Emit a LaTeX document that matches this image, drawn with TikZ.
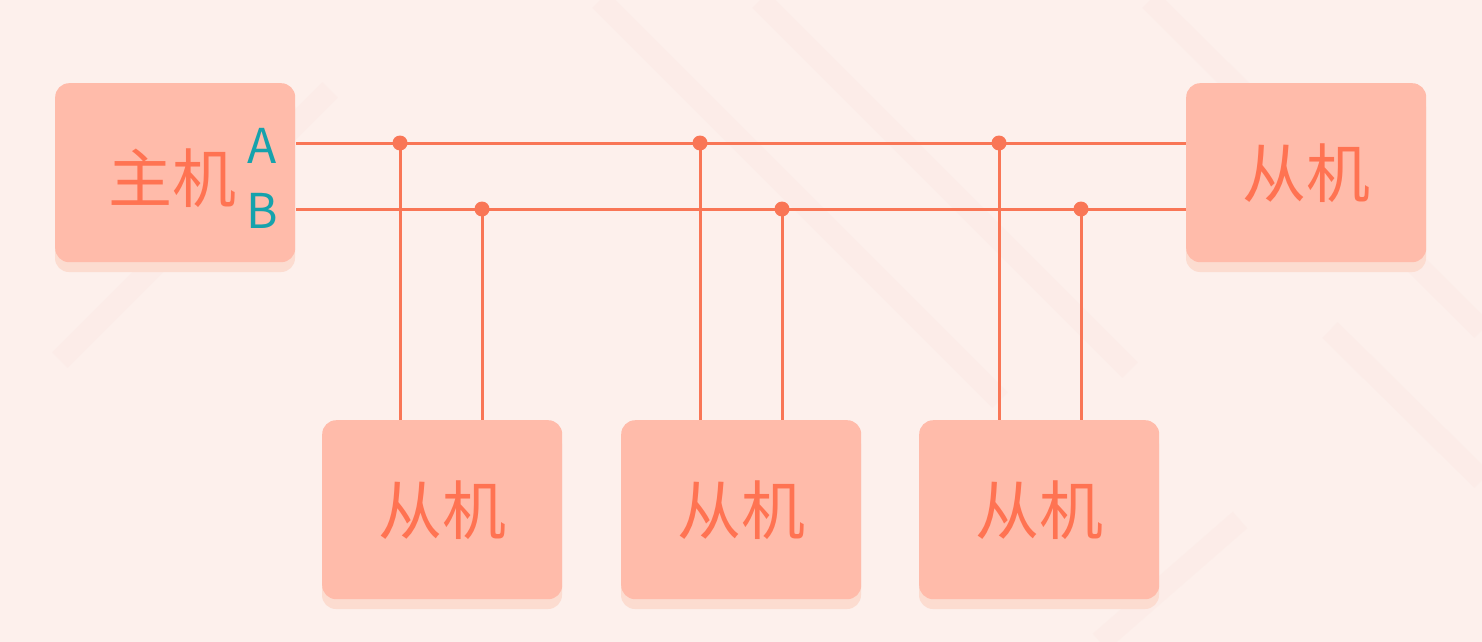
\documentclass[tikz,border=0pt]{standalone}
\usepackage{fontspec}
\newfontfamily\cjk{Noto Sans CJK SC}
\definecolor{bg}{HTML}{FDF0EC}
\definecolor{boxfill}{HTML}{FFBBAA}
\definecolor{boxshadow}{HTML}{FCDCD0}
\definecolor{wire}{HTML}{F97656}
\definecolor{txt}{HTML}{FF7352}
\definecolor{teal}{HTML}{16A2AC}
\definecolor{deco}{HTML}{FBE6DF}
\begin{document}
\begin{tikzpicture}[x=1pt,y=-1pt,
  unit/.style={draw=none,fill=boxfill,rounded corners=14pt,minimum width=240pt,minimum height=179pt,inner sep=0pt,font=\cjk\fontsize{64}{64}\selectfont,text=txt},
  bigtext/.style={font=\cjk\fontsize{64}{64}\selectfont,text=txt,inner sep=0pt},
  wireline/.style={draw=wire,line width=3pt},
  junction/.style={circle,fill=wire,inner sep=0pt,minimum size=15pt},
  ablabel/.style={font=\cjk\fontsize{48}{48}\selectfont,text=teal,inner sep=0pt}]
\useasboundingbox (0,0) rectangle (1482,642);
\fill[bg] (0,0) rectangle (1482,642);
% faint background decoration
\begin{scope}[draw=deco,line width=22pt,opacity=0.3]
\draw (60,360) -- (330,90);
\draw (600,0) -- (1000,400);
\draw (760,0) -- (1130,370);
\draw (1150,0) -- (1482,330);
\draw (1330,330) -- (1482,480);
\draw (1100,642) -- (1240,520);
\end{scope}
% shadows
\foreach \x/\y in {55/83,1186/83,322/420,621/420,919/420}
  \fill[boxshadow,rounded corners=14pt] (\x,\y+10) rectangle ++(240,179);
% boxes
\node[unit,anchor=north west] (master) at (55,83) {};
\node[bigtext] (mtext) at (172,178) {主机};
\node[ablabel] (la) at (262,146) {A};
\node[ablabel] (lb) at (262,211) {B};
\node[unit,anchor=north west] (s4) at (1186,83) {从机};
\node[unit,anchor=north west] (s1) at (322,420) {从机};
\node[unit,anchor=north west] (s2) at (621,420) {从机};
\node[unit,anchor=north west] (s3) at (919,420) {从机};
% bus lines
\coordinate (ma) at (296,143);
\coordinate (mb) at (296,209);
\coordinate (sa) at (1186,143);
\coordinate (sb) at (1186,209);
\draw[wireline] (ma) -- (sa);
\draw[wireline] (mb) -- (sb);
% junctions
\node[junction] (j1a) at (400,143) {};
\node[junction] (j1b) at (482,209) {};
\node[junction] (j2a) at (700,143) {};
\node[junction] (j2b) at (782,209) {};
\node[junction] (j3a) at (999,143) {};
\node[junction] (j3b) at (1081,209) {};
\draw[wireline] (j1a.center) -- (j1a.center |- s1.north);
\draw[wireline] (j1b.center) -- (j1b.center |- s1.north);
\draw[wireline] (j2a.center) -- (j2a.center |- s2.north);
\draw[wireline] (j2b.center) -- (j2b.center |- s2.north);
\draw[wireline] (j3a.center) -- (j3a.center |- s3.north);
\draw[wireline] (j3b.center) -- (j3b.center |- s3.north);
\end{tikzpicture}
\end{document}
